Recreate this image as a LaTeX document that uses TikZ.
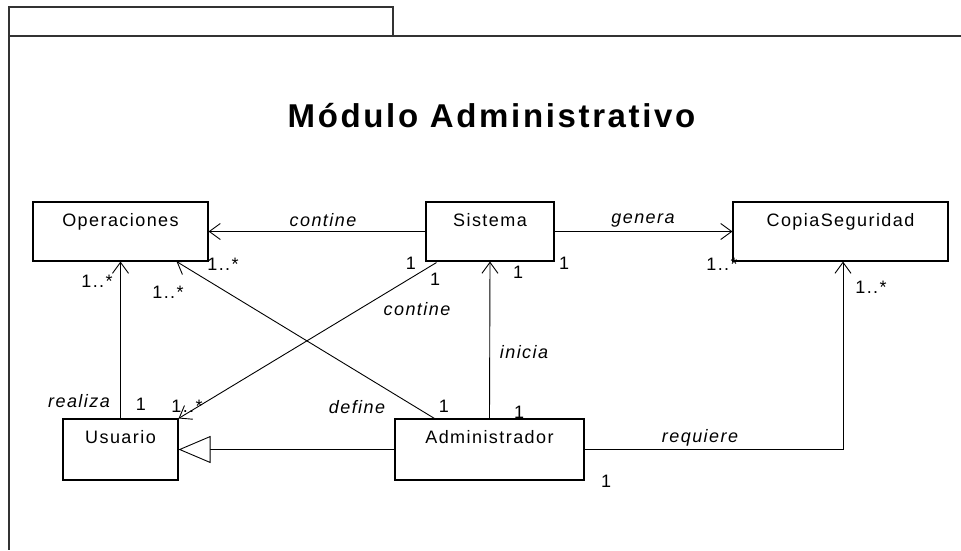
\documentclass[tikz,border=0pt]{standalone}
\usepackage{fontspec}
\setmainfont{Liberation Sans}
\newfontfamily\lsp{Liberation Sans}[LetterSpace=8]
\usetikzlibrary{arrows.meta,calc}
\begin{document}
\begin{tikzpicture}[x=1pt,y=-1pt,
  frame/.style={draw=black!80,line width=1.6pt},
  cls/.style={draw=black,line width=1.1pt,inner sep=0pt,text height=24pt,
    font=\lsp\fontsize{18}{20}\selectfont},
  conn/.style={draw=black,line width=0.9pt},
  nav/.style={conn,-{Straight Barb[length=11pt,width=16pt,line width=0.9pt]}},
  gen/.style={conn,-{Triangle[open,length=32pt,width=27pt,fill=white,line width=0.9pt]}},
  lbl/.style={inner sep=0pt,anchor=base,font=\lsp\itshape\fontsize{18}{20}\selectfont},
  mult/.style={inner sep=0pt,anchor=base,font=\lsp\fontsize{18}{20}\selectfont}]
\useasboundingbox[fill=white] (0,0) rectangle (961,550);
% package frame
\draw[frame] (9,7) rectangle (393,36);
\draw[frame] (961,36) -- (9,36) -- (9,550);
\node[inner sep=0pt,anchor=base,font=\lsp\bfseries\fontsize{33}{36}\selectfont] (title) at (491.5,127) {Módulo Administrativo};
% classes
\node[cls,minimum width=175pt,text depth=35pt] (op) at (120.5,231.5) {Operaciones};
\node[cls,minimum width=128pt,text depth=35pt] (sis) at (490,231.5) {Sistema};
\node[cls,minimum width=215pt,text depth=35pt] (cs) at (840.5,231.5) {CopiaSeguridad};
\node[cls,minimum width=115pt,text depth=37pt] (us) at (120.5,449.5) {Usuario};
\node[cls,minimum width=189pt,text depth=37pt] (ad) at (489.5,449.5) {Administrador};
% connectors
\draw[nav] (sis.west) -- (op.east);
\draw[nav] (sis.east) -- (cs.west);
\draw[nav] (us.north) -- (op.south);
\draw[nav] ($(sis.south west)+(11,1)$) -- (us.north east);
\draw[nav] ($(ad.north west)+(40,0)$) -- ($(op.south east)+(-32,0)$);
\draw[nav] (ad.north) -- (sis.south);
\draw[gen] (ad.west) -- (us.east);
\draw[nav] (ad.east) -| ($(cs.south)+(2.5,0)$);
% labels
\node[lbl] (l1) at (323,226) {contine};
\node[lbl] (l2) at (643,223) {genera};
\node[lbl] (l3) at (417,315) {contine};
\node[lbl] (l4) at (524,358) {inicia};
\node[lbl] (l5) at (79,407) {realiza};
\node[lbl] (l6) at (357,413) {define};
\node[lbl] (l7) at (700,442) {requiere};
% multiplicities
\node[mult] (m1) at (223,270) {1..*};
\node[mult] (m2) at (97,287) {1..*};
\node[mult] (m3) at (168,298) {1..*};
\node[mult] (m4) at (411,269) {1};
\node[mult] (m5) at (435,285) {1};
\node[mult] (m6) at (518,278) {1};
\node[mult] (m7) at (564,269) {1};
\node[mult] (m8) at (722,270) {1..*};
\node[mult] (m9) at (871,293) {1..*};
\node[mult] (m10) at (141,410) {1};
\node[mult] (m11) at (187,412) {1..*};
\node[mult] (m12) at (444,412) {1};
\node[mult] (m13) at (519,418) {1};
\node[mult] (m14) at (606,487) {1};
\end{tikzpicture}
\end{document}
